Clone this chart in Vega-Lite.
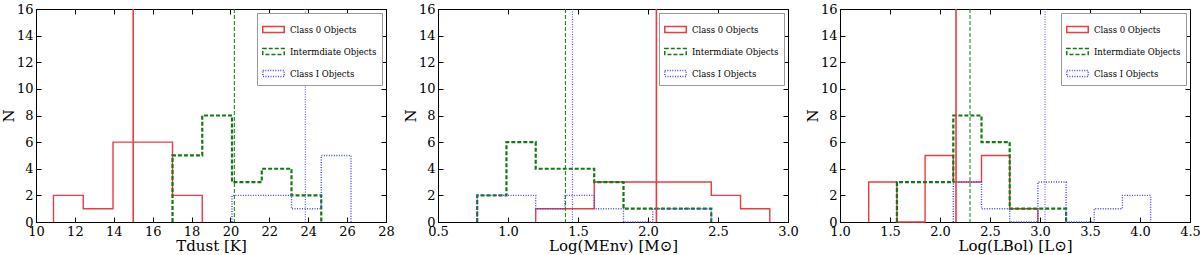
{
  "$schema": "https://vega.github.io/schema/vega-lite/v6.json",
  "padding": {"left": 0, "top": 2, "right": 0, "bottom": 0},
  "bounds": "flush",
  "spacing": 52,
  "config": {
    "font": "DejaVu Serif",
    "view": {"stroke": "black", "strokeWidth": 1},
    "axis": {"grid": false, "labelFont": "DejaVu Serif", "titleFont": "DejaVu Serif", "labelFontSize": 13, "titleFontSize": 15, "titleFontWeight": "normal", "labelColor": "black", "titleColor": "black", "domainColor": "black", "tickColor": "black", "tickSize": -5, "labelPadding": 8, "titlePadding": 0, "labelFlush": false, "labelOverlap": false},
    "legend": {"orient": "top-right", "offset": 4, "title": null, "labelFont": "DejaVu Serif", "labelFontSize": 8.5, "labelColor": "black", "symbolType": "M-1,-0.27H1V0.27H-1Z", "symbolSize": 460, "strokeColor": "#999", "fillColor": "white", "padding": 5, "rowPadding": 4, "cornerRadius": 0, "labelOffset": 5}
  },
  "datasets": {
    "b_hist": [
      {"cls": "Class 0 Objects", "i": 0, "edge": 10.9, "n": 0},
      {"cls": "Class 0 Objects", "i": 1, "edge": 10.9, "n": 2},
      {"cls": "Class 0 Objects", "i": 2, "edge": 12.43, "n": 1},
      {"cls": "Class 0 Objects", "i": 3, "edge": 13.96, "n": 6},
      {"cls": "Class 0 Objects", "i": 4, "edge": 15.49, "n": 6},
      {"cls": "Class 0 Objects", "i": 5, "edge": 17.02, "n": 2},
      {"cls": "Class 0 Objects", "i": 6, "edge": 18.55, "n": 0},
      {"cls": "Intermdiate Objects", "i": 0, "edge": 17.02, "n": 0},
      {"cls": "Intermdiate Objects", "i": 1, "edge": 17.02, "n": 5},
      {"cls": "Intermdiate Objects", "i": 2, "edge": 18.55, "n": 8},
      {"cls": "Intermdiate Objects", "i": 3, "edge": 20.08, "n": 3},
      {"cls": "Intermdiate Objects", "i": 4, "edge": 21.61, "n": 4},
      {"cls": "Intermdiate Objects", "i": 5, "edge": 23.14, "n": 2},
      {"cls": "Intermdiate Objects", "i": 6, "edge": 24.67, "n": 0},
      {"cls": "Class I Objects", "i": 0, "edge": 20.08, "n": 0},
      {"cls": "Class I Objects", "i": 1, "edge": 20.08, "n": 2},
      {"cls": "Class I Objects", "i": 2, "edge": 21.61, "n": 2},
      {"cls": "Class I Objects", "i": 3, "edge": 23.14, "n": 1},
      {"cls": "Class I Objects", "i": 4, "edge": 24.67, "n": 5},
      {"cls": "Class I Objects", "i": 5, "edge": 26.2, "n": 0}
    ],
    "b_med": [
      {"cls": "Class 0 Objects", "med": 15.0},
      {"cls": "Intermdiate Objects", "med": 20.2},
      {"cls": "Class I Objects", "med": 23.85}
    ],
    "c_hist": [
      {"cls": "Class 0 Objects", "i": 0, "edge": 1.198, "n": 0},
      {"cls": "Class 0 Objects", "i": 1, "edge": 1.198, "n": 1},
      {"cls": "Class 0 Objects", "i": 2, "edge": 1.407, "n": 1},
      {"cls": "Class 0 Objects", "i": 3, "edge": 1.616, "n": 3},
      {"cls": "Class 0 Objects", "i": 4, "edge": 1.825, "n": 3},
      {"cls": "Class 0 Objects", "i": 5, "edge": 2.034, "n": 3},
      {"cls": "Class 0 Objects", "i": 6, "edge": 2.243, "n": 3},
      {"cls": "Class 0 Objects", "i": 7, "edge": 2.452, "n": 2},
      {"cls": "Class 0 Objects", "i": 8, "edge": 2.661, "n": 1},
      {"cls": "Class 0 Objects", "i": 9, "edge": 2.87, "n": 0},
      {"cls": "Intermdiate Objects", "i": 0, "edge": 0.78, "n": 0},
      {"cls": "Intermdiate Objects", "i": 1, "edge": 0.78, "n": 2},
      {"cls": "Intermdiate Objects", "i": 2, "edge": 0.989, "n": 6},
      {"cls": "Intermdiate Objects", "i": 3, "edge": 1.198, "n": 4},
      {"cls": "Intermdiate Objects", "i": 4, "edge": 1.407, "n": 4},
      {"cls": "Intermdiate Objects", "i": 5, "edge": 1.616, "n": 3},
      {"cls": "Intermdiate Objects", "i": 6, "edge": 1.825, "n": 1},
      {"cls": "Intermdiate Objects", "i": 7, "edge": 2.034, "n": 1},
      {"cls": "Intermdiate Objects", "i": 8, "edge": 2.243, "n": 1},
      {"cls": "Intermdiate Objects", "i": 9, "edge": 2.452, "n": 0},
      {"cls": "Class I Objects", "i": 0, "edge": 0.78, "n": 0},
      {"cls": "Class I Objects", "i": 1, "edge": 0.78, "n": 2},
      {"cls": "Class I Objects", "i": 2, "edge": 0.989, "n": 2},
      {"cls": "Class I Objects", "i": 3, "edge": 1.198, "n": 1},
      {"cls": "Class I Objects", "i": 4, "edge": 1.407, "n": 2},
      {"cls": "Class I Objects", "i": 5, "edge": 1.616, "n": 1},
      {"cls": "Class I Objects", "i": 6, "edge": 1.825, "n": 0},
      {"cls": "Class I Objects", "i": 7, "edge": 2.034, "n": 1},
      {"cls": "Class I Objects", "i": 8, "edge": 2.243, "n": 1},
      {"cls": "Class I Objects", "i": 9, "edge": 2.452, "n": 0}
    ],
    "c_med": [
      {"cls": "Class 0 Objects", "med": 2.06},
      {"cls": "Intermdiate Objects", "med": 1.41},
      {"cls": "Class I Objects", "med": 1.46}
    ],
    "d_hist": [
      {"cls": "Class 0 Objects", "i": 0, "edge": 1.287, "n": 0},
      {"cls": "Class 0 Objects", "i": 1, "edge": 1.287, "n": 3},
      {"cls": "Class 0 Objects", "i": 2, "edge": 1.569, "n": 0},
      {"cls": "Class 0 Objects", "i": 3, "edge": 1.851, "n": 5},
      {"cls": "Class 0 Objects", "i": 4, "edge": 2.133, "n": 3},
      {"cls": "Class 0 Objects", "i": 5, "edge": 2.415, "n": 5},
      {"cls": "Class 0 Objects", "i": 6, "edge": 2.697, "n": 1},
      {"cls": "Class 0 Objects", "i": 7, "edge": 2.979, "n": 0},
      {"cls": "Intermdiate Objects", "i": 0, "edge": 1.569, "n": 0},
      {"cls": "Intermdiate Objects", "i": 1, "edge": 1.569, "n": 3},
      {"cls": "Intermdiate Objects", "i": 2, "edge": 1.851, "n": 3},
      {"cls": "Intermdiate Objects", "i": 3, "edge": 2.133, "n": 8},
      {"cls": "Intermdiate Objects", "i": 4, "edge": 2.415, "n": 6},
      {"cls": "Intermdiate Objects", "i": 5, "edge": 2.697, "n": 1},
      {"cls": "Intermdiate Objects", "i": 6, "edge": 2.979, "n": 1},
      {"cls": "Intermdiate Objects", "i": 7, "edge": 3.261, "n": 0},
      {"cls": "Class I Objects", "i": 0, "edge": 2.133, "n": 0},
      {"cls": "Class I Objects", "i": 1, "edge": 2.133, "n": 3},
      {"cls": "Class I Objects", "i": 2, "edge": 2.415, "n": 1},
      {"cls": "Class I Objects", "i": 3, "edge": 2.697, "n": 0},
      {"cls": "Class I Objects", "i": 4, "edge": 2.979, "n": 3},
      {"cls": "Class I Objects", "i": 5, "edge": 3.261, "n": 0},
      {"cls": "Class I Objects", "i": 6, "edge": 3.542, "n": 1},
      {"cls": "Class I Objects", "i": 7, "edge": 3.824, "n": 2},
      {"cls": "Class I Objects", "i": 8, "edge": 4.106, "n": 0}
    ],
    "d_med": [
      {"cls": "Class 0 Objects", "med": 2.16},
      {"cls": "Intermdiate Objects", "med": 2.30},
      {"cls": "Class I Objects", "med": 3.05}
    ]
  },
  "resolve": {
    "scale": {"color": "independent", "strokeDash": "independent", "x": "independent"},
    "legend": {"color": "independent", "strokeDash": "independent"}
  },
  "hconcat": [
    {
      "width": 350, "height": 213,
      "resolve": {"axis": {"x": "independent", "y": "independent"}},
      "layer": [
        {
          "data": {"name": "b_hist"},
          "mark": {"type": "line", "interpolate": "step-after"},
          "encoding": {
            "x": {"field": "edge", "type": "quantitative", "scale": {"domain": [10, 28], "nice": false, "zero": false}, "axis": {"values": [10,12,14,16,18,20,22,24,26,28], "labelOverlap": false, "title": "Tdust [K]"}},
            "y": {"field": "n", "type": "quantitative", "scale": {"domain": [0, 16], "nice": false}, "axis": {"values": [0,2,4,6,8,10,12,14,16], "labelOverlap": false, "title": "N"}},
            "order": {"field": "i", "type": "quantitative"},
            "color": {"field": "cls", "type": "nominal", "scale": {"domain": ["Class 0 Objects", "Intermdiate Objects", "Class I Objects"], "range": ["#ec3a3f", "#127a12", "#4444ee"]}},
            "strokeDash": {"field": "cls", "type": "nominal", "scale": {"domain": ["Class 0 Objects", "Intermdiate Objects", "Class I Objects"], "range": [[1, 0], [4, 2], [1, 1.5]]}},
            "strokeWidth": {"condition": {"test": "datum.cls === 'Intermdiate Objects'", "value": 2.2}, "value": 1.4}
          }
        },
        {
          "data": {"name": "b_med"},
          "mark": {"type": "rule"},
          "encoding": {
            "x": {"field": "med", "type": "quantitative", "axis": {"orient": "top", "values": [10,12,14,16,18,20,22,24,26,28], "labels": false, "domain": false, "title": null}},
            "color": {"field": "cls", "type": "nominal"},
            "strokeDash": {"field": "cls", "type": "nominal"},
            "strokeWidth": {"condition": {"test": "datum.cls === 'Class 0 Objects'", "value": 1.6}, "value": 1}
          }
        },
        {
          "mark": {"type": "text", "align": "left", "baseline": "middle", "fontSize": 12, "font": "DejaVu Serif", "color": "black"},
          "encoding": {"x": {"datum": 10.9, "type": "quantitative", "axis": null}, "y": {"datum": 14.8, "type": "quantitative", "axis": {"orient": "right", "values": [0,2,4,6,8,10,12,14,16], "labels": false, "domain": false, "title": null}}, "text": {"value": "(b)"}}
        }
      ]
    },
    {
      "width": 350, "height": 213,
      "resolve": {"axis": {"x": "independent", "y": "independent"}},
      "layer": [
        {
          "data": {"name": "c_hist"},
          "mark": {"type": "line", "interpolate": "step-after"},
          "encoding": {
            "x": {"field": "edge", "type": "quantitative", "scale": {"domain": [0.5, 3.0], "nice": false, "zero": false}, "axis": {"values": [0.5,1.0,1.5,2.0,2.5,3.0], "format": ".1f", "labelOverlap": false, "title": "Log(MEnv) [M⊙]"}},
            "y": {"field": "n", "type": "quantitative", "scale": {"domain": [0, 16], "nice": false}, "axis": {"values": [0,2,4,6,8,10,12,14,16], "labelOverlap": false, "title": "N"}},
            "order": {"field": "i", "type": "quantitative"},
            "color": {"field": "cls", "type": "nominal", "scale": {"domain": ["Class 0 Objects", "Intermdiate Objects", "Class I Objects"], "range": ["#ec3a3f", "#127a12", "#4444ee"]}},
            "strokeDash": {"field": "cls", "type": "nominal", "scale": {"domain": ["Class 0 Objects", "Intermdiate Objects", "Class I Objects"], "range": [[1, 0], [4, 2], [1, 1.5]]}},
            "strokeWidth": {"condition": {"test": "datum.cls === 'Intermdiate Objects'", "value": 2.2}, "value": 1.4}
          }
        },
        {
          "data": {"name": "c_med"},
          "mark": {"type": "rule"},
          "encoding": {
            "x": {"field": "med", "type": "quantitative", "axis": {"orient": "top", "values": [0.5,1.0,1.5,2.0,2.5,3.0], "labels": false, "domain": false, "title": null}},
            "color": {"field": "cls", "type": "nominal"},
            "strokeDash": {"field": "cls", "type": "nominal"},
            "strokeWidth": {"condition": {"test": "datum.cls === 'Class 0 Objects'", "value": 1.6}, "value": 1}
          }
        },
        {
          "mark": {"type": "text", "align": "left", "baseline": "middle", "fontSize": 12, "font": "DejaVu Serif", "color": "black"},
          "encoding": {"x": {"datum": 0.62, "type": "quantitative", "axis": null}, "y": {"datum": 14.8, "type": "quantitative", "axis": {"orient": "right", "values": [0,2,4,6,8,10,12,14,16], "labels": false, "domain": false, "title": null}}, "text": {"value": "(c)"}}
        }
      ]
    },
    {
      "width": 350, "height": 213,
      "resolve": {"axis": {"x": "independent", "y": "independent"}},
      "layer": [
        {
          "data": {"name": "d_hist"},
          "mark": {"type": "line", "interpolate": "step-after"},
          "encoding": {
            "x": {"field": "edge", "type": "quantitative", "scale": {"domain": [1.0, 4.5], "nice": false, "zero": false}, "axis": {"values": [1.0,1.5,2.0,2.5,3.0,3.5,4.0,4.5], "format": ".1f", "labelOverlap": false, "title": "Log(LBol) [L⊙]"}},
            "y": {"field": "n", "type": "quantitative", "scale": {"domain": [0, 16], "nice": false}, "axis": {"values": [0,2,4,6,8,10,12,14,16], "labelOverlap": false, "title": "N"}},
            "order": {"field": "i", "type": "quantitative"},
            "color": {"field": "cls", "type": "nominal", "scale": {"domain": ["Class 0 Objects", "Intermdiate Objects", "Class I Objects"], "range": ["#ec3a3f", "#127a12", "#4444ee"]}},
            "strokeDash": {"field": "cls", "type": "nominal", "scale": {"domain": ["Class 0 Objects", "Intermdiate Objects", "Class I Objects"], "range": [[1, 0], [4, 2], [1, 1.5]]}},
            "strokeWidth": {"condition": {"test": "datum.cls === 'Intermdiate Objects'", "value": 2.2}, "value": 1.4}
          }
        },
        {
          "data": {"name": "d_med"},
          "mark": {"type": "rule"},
          "encoding": {
            "x": {"field": "med", "type": "quantitative", "axis": {"orient": "top", "values": [1.0,1.5,2.0,2.5,3.0,3.5,4.0,4.5], "labels": false, "domain": false, "title": null}},
            "color": {"field": "cls", "type": "nominal"},
            "strokeDash": {"field": "cls", "type": "nominal"},
            "strokeWidth": {"condition": {"test": "datum.cls === 'Class 0 Objects'", "value": 1.6}, "value": 1}
          }
        },
        {
          "mark": {"type": "text", "align": "left", "baseline": "middle", "fontSize": 12, "font": "DejaVu Serif", "color": "black"},
          "encoding": {"x": {"datum": 1.19, "type": "quantitative", "axis": null}, "y": {"datum": 14.8, "type": "quantitative", "axis": {"orient": "right", "values": [0,2,4,6,8,10,12,14,16], "labels": false, "domain": false, "title": null}}, "text": {"value": "(d)"}}
        }
      ]
    }
  ]
}
